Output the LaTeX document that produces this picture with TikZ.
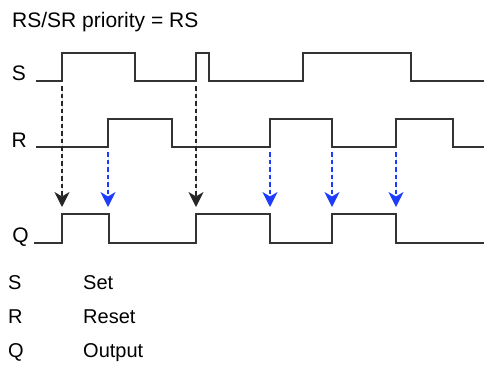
\documentclass[tikz,border=0pt]{standalone}
\usepackage{fontspec}
\setmainfont{Liberation Sans}
\usetikzlibrary{arrows.meta}
\definecolor{wavegray}{HTML}{333333}
\definecolor{resetblue}{HTML}{1E3CFF}

\begin{document}
\begin{tikzpicture}[x=1pt,y=-1pt,>={Stealth[length=15pt,width=15pt,inset=4.5pt]},font=\fontsize{20}{24}\selectfont]
\tikzstyle{wave}=[draw=wavegray,line width=2.6pt]
\tikzstyle{setarrow}=[->,draw=black!85,fill=black,line width=1.5pt,dash pattern=on 4.5pt off 3pt]
\tikzstyle{resetarrow}=[->,draw=resetblue,fill=resetblue,line width=1.5pt,dash pattern=on 4.5pt off 3pt]
\tikzstyle{siglabel}=[anchor=base east,inner sep=0pt,font=\fontsize{21}{24}\selectfont]
\tikzstyle{legend}=[anchor=base west,inner sep=0pt]
\useasboundingbox (0,0) rectangle (484,369);

% title
\node[anchor=base west,inner sep=0pt,font=\fontsize{21}{24}\selectfont] (title) at (12,28) {RS/SR priority = RS};

% signal names
\node[siglabel] (lblS) at (26,81) {S};
\node[siglabel] (lblR) at (27,147) {R};
\node[siglabel] (lblQ) at (29,242) {Q};

% waveforms
\draw[wave] (36,81) -- (62,81) -- (62,53) -- (135,53) -- (135,81) -- (196,81) -- (196,53) -- (209,53) -- (209,81)
  -- (303,81) -- (303,53) -- (411,53) -- (411,81) -- (484,81);
\draw[wave] (36,147) -- (108,147) -- (108,119) -- (172,119) -- (172,147) -- (270,147) -- (270,119) -- (332,119)
  -- (332,147) -- (396,147) -- (396,119) -- (453,119) -- (453,147) -- (484,147);
\draw[wave] (34,243) -- (62,243) -- (62,214) -- (109,214) -- (109,243) -- (196,243) -- (196,214) -- (270,214)
  -- (270,243) -- (332,243) -- (332,214) -- (396,214) -- (396,243) -- (484,243);

% set / reset events
\coordinate (set1) at (62,86);
\coordinate (set2) at (196,86);
\coordinate (q1) at (62,207);
\coordinate (q2) at (196,207);
\draw[setarrow] (set1) -- (q1);
\draw[setarrow] (set2) -- (q2);
\foreach \x/\n in {108/r1,270/r2,332/r3,396/r4}{
  \coordinate (\n) at (\x,152);
  \coordinate (\n q) at (\x,207);
  \draw[resetarrow] (\n) -- (\n q);
}

% legend
\node[legend] (keyS) at (8,289) {S};
\node[legend] (keyR) at (8,323) {R};
\node[legend] (keyQ) at (8,357) {Q};
\node[legend] (txtS) at (83,289) {Set};
\node[legend] (txtR) at (83,323) {Reset};
\node[legend] (txtQ) at (83,357) {Output};
\end{tikzpicture}
\end{document}
